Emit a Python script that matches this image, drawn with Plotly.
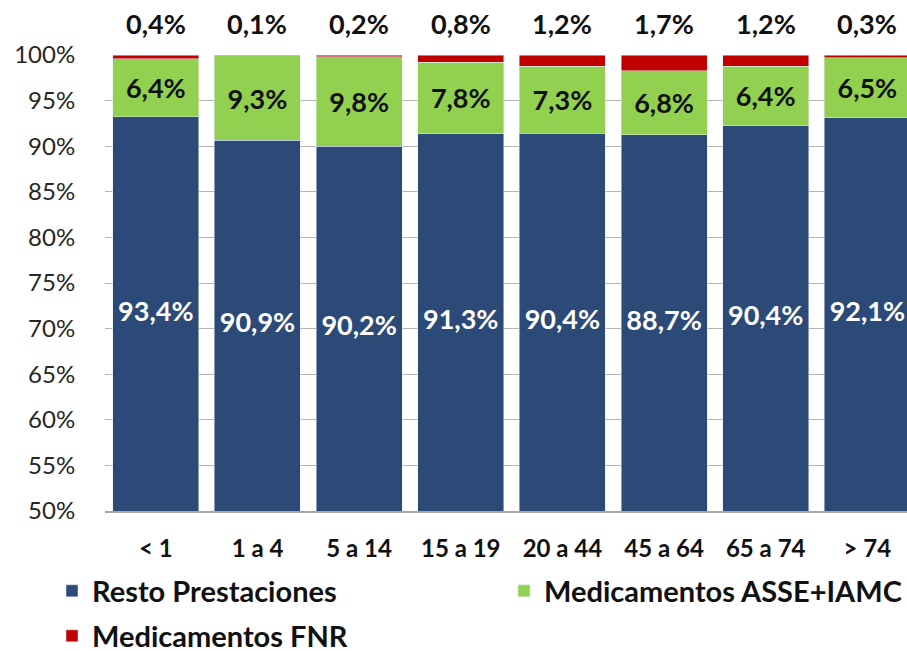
import plotly.graph_objects as go

# -------------------------------------------------
# DATA
# -------------------------------------------------
age_groups = ["< 1", "1 a 4", "5 a 14", "15 a 19", "20 a 44", "45 a 64", "65 a 74", "> 74"]

resto_prestaciones = [93.4, 90.9, 90.2, 91.3, 90.4, 88.7, 90.4, 92.1]
med_asse_iamc = [6.4, 9.3, 9.8, 7.8, 7.3, 6.8, 6.4, 6.5]
med_fnr = [0.4, 0.1, 0.2, 0.8, 1.2, 1.7, 1.2, 0.3]

y_ticks = list(range(50, 101, 5))
y_tick_text = [f"{v}%" for v in y_ticks]

BLUE = "#2C4A77"
GREEN = "#92D050"
RED = "#C00000"
FONT = "Lato"

Y_MIN, Y_MAX = 50, 100


def pct_label(v):
    return f"{v:.1f}%".replace(".", ",")


# share of "Resto" after 100% normalisation, label sits in the visible part
totals = [a + b + c for a, b, c in zip(resto_prestaciones, med_asse_iamc, med_fnr)]
resto_norm = [100 * a / t for a, t in zip(resto_prestaciones, totals)]
resto_label_y = [(Y_MIN + v) / 2 for v in resto_norm]

fig = go.Figure()

fig.add_bar(
    x=age_groups,
    y=resto_prestaciones,
    name="Resto Prestaciones",
    marker_color=BLUE,
    textposition="none",
    legend="legend",
)

fig.add_bar(
    x=age_groups,
    y=med_asse_iamc,
    name="Medicamentos ASSE+IAMC",
    marker_color=GREEN,
    text=[pct_label(v) for v in med_asse_iamc],
    textposition="inside",
    insidetextanchor="middle",
    constraintext="none",
    textfont=dict(color="#111111", size=27, family=FONT, weight="bold"),
    legend="legend2",
)

fig.add_bar(
    x=age_groups,
    y=med_fnr,
    name="Medicamentos FNR",
    marker_color=RED,
    textposition="none",
    legend="legend3",
)

# white labels of the blue segment
fig.add_scatter(
    x=age_groups,
    y=resto_label_y,
    mode="text",
    text=[pct_label(v) for v in resto_prestaciones],
    textfont=dict(color="white", size=27, family=FONT, weight="bold"),
    showlegend=False,
    cliponaxis=False,
)

# labels above the bars for the FNR share
for cat, v in zip(age_groups, med_fnr):
    fig.add_annotation(
        x=cat, y=1, xref="x", yref="paper",
        text=pct_label(v),
        showarrow=False,
        yanchor="bottom",
        yshift=13,
        font=dict(size=27, color="#111111", family=FONT, weight="bold"),
    )

legend_font = dict(size=29, color="#111111", family=FONT, weight="bold")


def _legend(x_px, y_px):
    return dict(
        xref="container", yref="container",
        x=x_px / 907, y=1 - y_px / 651,
        xanchor="left", yanchor="middle",
        orientation="h",
        font=legend_font,
        bgcolor="rgba(0,0,0,0)",
    )


fig.update_layout(
    width=907,
    height=651,
    barmode="stack",
    barnorm="percent",
    bargap=0.154,
    paper_bgcolor="white",
    plot_bgcolor="white",
    font=dict(family=FONT, color="#222222"),
    margin=dict(l=105, r=0, t=55, b=140),
    hovermode=False,
    showlegend=True,
    legend=_legend(52, 591),
    legend2=_legend(504, 591),
    legend3=_legend(52, 636),
)

fig.update_xaxes(
    range=[-0.5, 7.39],
    showgrid=False,
    showline=True,
    linecolor="#A6A6A6",
    linewidth=1.5,
    ticks="",
    ticklabelstandoff=15,
    tickfont=dict(size=24, color="#111111", family=FONT, weight="bold"),
)

fig.update_yaxes(
    range=[Y_MIN, Y_MAX],
    tickmode="array",
    tickvals=y_ticks,
    ticktext=y_tick_text,
    showgrid=True,
    gridcolor="#B5B5B5",
    gridwidth=1,
    zeroline=False,
    ticks="outside",
    ticklen=24,
    tickcolor="rgba(0,0,0,0)",
    tickfont=dict(size=24, color="#262626", family=FONT),
)

# drop the default page margin so the figure fills the window
fig.write_html(
    "out.html",
    config={"displayModeBar": False},
    post_script="document.body.style.margin = '0';",
)
